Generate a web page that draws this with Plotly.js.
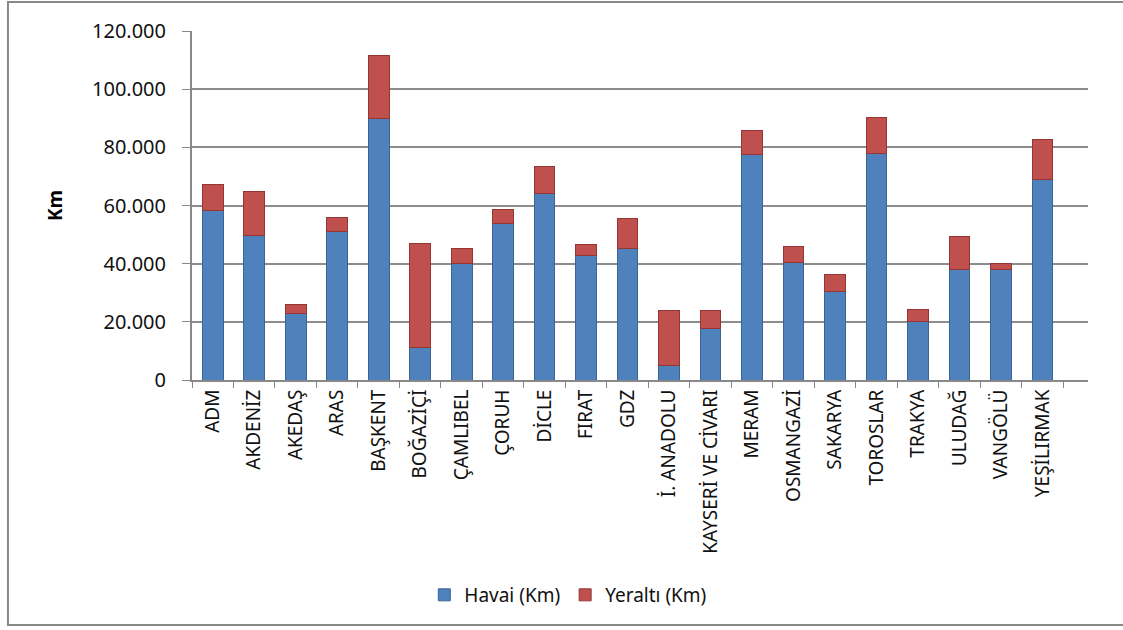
<!DOCTYPE html>
<html>
<head>
<meta charset="utf-8">
<script src="https://cdn.plot.ly/plotly-3.0.1.min.js"></script>
<style>html,body{margin:0;padding:0;background:#fff;}#chart{width:1123px;height:630px;}</style>
</head>
<body>
<div id="chart"></div>
<script>
const categories = ["ADM","AKDENİZ","AKEDAŞ","ARAS","BAŞKENT","BOĞAZİÇİ","ÇAMLIBEL","ÇORUH","DİCLE","FIRAT","GDZ","İ. ANADOLU","KAYSERİ VE CİVARI","MERAM","OSMANGAZİ","SAKARYA","TOROSLAR","TRAKYA","ULUDAĞ","VANGÖLÜ","YEŞİLIRMAK"];
const havai = [58300,49800,22900,51000,90000,11300,40000,53800,64200,42700,45200,5000,17800,77600,40400,30300,78000,20100,38100,38100,68900];
const toplam = [67300,64700,25800,56000,111500,46800,45100,58500,73300,46600,55500,23800,23800,85900,45900,36400,90200,24300,49300,40200,82700];
const yeralti = toplam.map((t,i)=>t-havai[i]);
const seriesNames = ["Havai (Km)","Yeraltı (Km)"];
const yTicks = [0,20000,40000,60000,80000,100000,120000];

const font = "Noto Sans, Open Sans, sans-serif";
const traces = [
  {type:'bar', name:seriesNames[0], x:categories, y:havai, marker:{color:'#4F81BD', line:{color:'#3A6494', width:1}}, width:0.5},
  {type:'bar', name:seriesNames[1], x:categories, y:yeralti, marker:{color:'#C0504D', line:{color:'#943634', width:1}}, width:0.5}
];
const layout = {
  width:1123, height:630,
  margin:{l:192, r:35, t:31, b:250},
  barmode:'stack',
  separators:',.',
  paper_bgcolor:'#ffffff', plot_bgcolor:'#ffffff',
  font:{family:font, size:19, color:'#111'},
  showlegend:true,
  legend:{orientation:'h', x:0.42, xanchor:'center', y:-0.616, yanchor:'middle', font:{family:font, size:19, color:'#111'}, traceorder:'normal', itemwidth:30},
  xaxis:{type:'category', range:[-0.5,21.1], tickangle:-90, ticks:'outside', ticklen:6, tickcolor:'#888', tickson:'boundaries',
         showline:true, linecolor:'#888', linewidth:2, showgrid:false, tickfont:{family:font, size:19, color:'#111'}, automargin:false},
  yaxis:{range:[0,120000], tickvals:yTicks, tickformat:',d', ticks:'outside', ticklen:8, tickcolor:'#888',
         showline:true, linecolor:'#888', linewidth:2, showgrid:true, gridcolor:'#8c8c8c', gridwidth:2,
         tickfont:{family:font, size:20, color:'#111'}, ticklabelstandoff:12, zeroline:false, automargin:false,
         title:{text:'<b>Km</b>', font:{family:font, size:19, color:'#000'}, standoff:24}},
  shapes:[
    {type:'rect', xref:'paper', yref:'paper', x0:-0.2054, x1:1.05, y0:(380-625)/349, y1:(380-2)/349, line:{color:'#888', width:2}, fillcolor:'rgba(0,0,0,0)', layer:'below'}
  ]
};
Plotly.newPlot('chart', traces, layout, {displayModeBar:false, staticPlot:true});
</script>
</body>
</html>
